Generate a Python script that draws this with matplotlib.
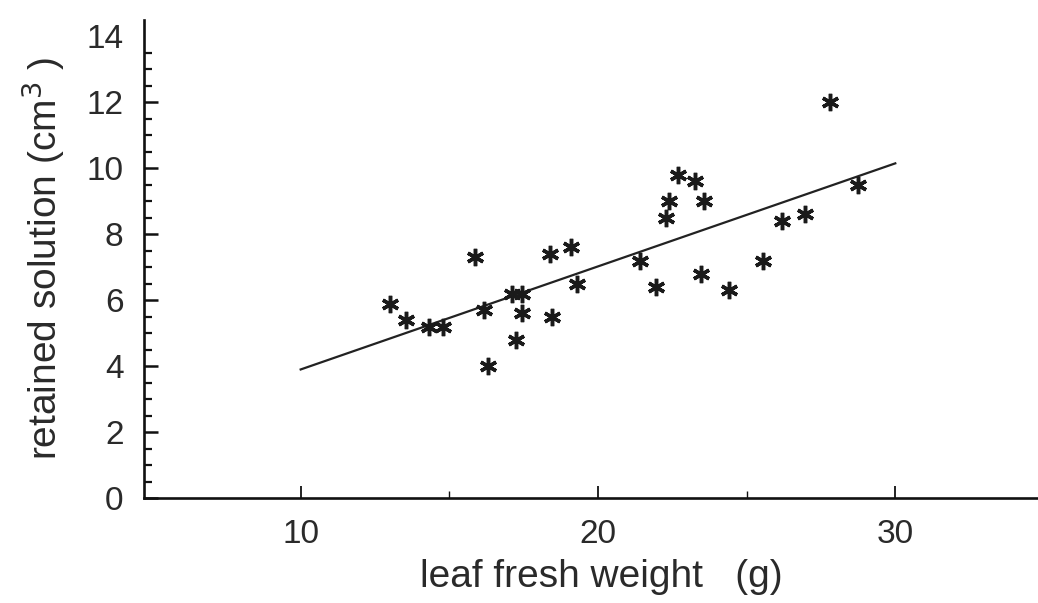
import matplotlib.pyplot as plt
import numpy as np

plt.rcParams['font.family'] = ['Liberation Sans', 'DejaVu Sans']

# leaf fresh weight (g) vs retained solution (cm3)
weight = [13.0, 13.55, 14.3, 14.8, 15.85, 16.15, 16.3, 17.1, 17.45, 17.45,
          17.25, 18.4, 18.45, 19.1, 19.3, 21.4, 21.95, 22.3, 22.4, 22.7,
          23.25, 23.55, 23.45, 24.4, 25.55, 26.2, 26.95, 27.8, 28.75]
retained = [5.9, 5.4, 5.2, 5.2, 7.3, 5.7, 4.0, 6.2, 6.2, 5.6,
            4.8, 7.4, 5.5, 7.6, 6.5, 7.2, 6.4, 8.5, 9.0, 9.8,
            9.6, 9.0, 6.8, 6.3, 7.2, 8.4, 8.6, 12.0, 9.5]

# regression line end points
fit_x = [10, 30]
fit_y = [3.9, 10.15]

xticks = [10, 20, 30]
yticks = [0, 2, 4, 6, 8, 10, 12, 14]

fig = plt.figure(figsize=(10.38, 6.03), dpi=100)
ax = fig.add_axes([0.139, 0.174, 0.861, 0.793])

ax.plot(fit_x, fit_y, color='#222222', lw=1.6)
ax.plot(weight, retained, linestyle='none', marker=(6, 2, 0), markersize=12.5,
        markeredgewidth=2.5, color='#1a1a1a')

ax.set_xlim(4.74, 34.8)
ax.set_ylim(0, 14.5)

for s in ['top', 'right']:
    ax.spines[s].set_visible(False)
for s in ['left', 'bottom']:
    ax.spines[s].set_linewidth(1.9)
    ax.spines[s].set_color('#111111')

ax.set_xticks(xticks)
ax.set_xticks([15, 25], minor=True)
ax.set_yticks(yticks)
ax.set_yticks(np.arange(0.5, 14, 0.5), minor=True)

ax.tick_params(axis='y', which='major', direction='in', length=10, width=1.8,
               pad=15, labelsize=24, color='#111111', labelcolor='#2a2a2a')
ax.tick_params(axis='y', which='minor', direction='in', length=6, width=1.6,
               color='#111111')
ax.tick_params(axis='x', which='major', direction='in', length=9, width=1.3,
               pad=15, labelsize=24, color='#111111', labelcolor='#2a2a2a')
ax.tick_params(axis='x', which='minor', direction='in', length=5, width=1.0,
               color='#111111')
for lab in ax.get_xticklabels() + ax.get_yticklabels():
    lab.set_family(['Liberation Sans Narrow', 'Liberation Sans'])
# the 14 label has no tick mark in the original
ax.yaxis.get_major_ticks()[-1].tick1line.set_visible(False)

ax.set_xlabel('leaf fresh weight   (g)', fontsize=28, color='#2a2a2a', va='top')
ax.xaxis.set_label_coords(0.511, -0.128)
ax.set_ylabel('retained solution (cm$^3$ )', fontsize=28, color='#2a2a2a')
ax.yaxis.set_label_coords(-0.087, 0.5)

fig.savefig('out.png', dpi=100)
